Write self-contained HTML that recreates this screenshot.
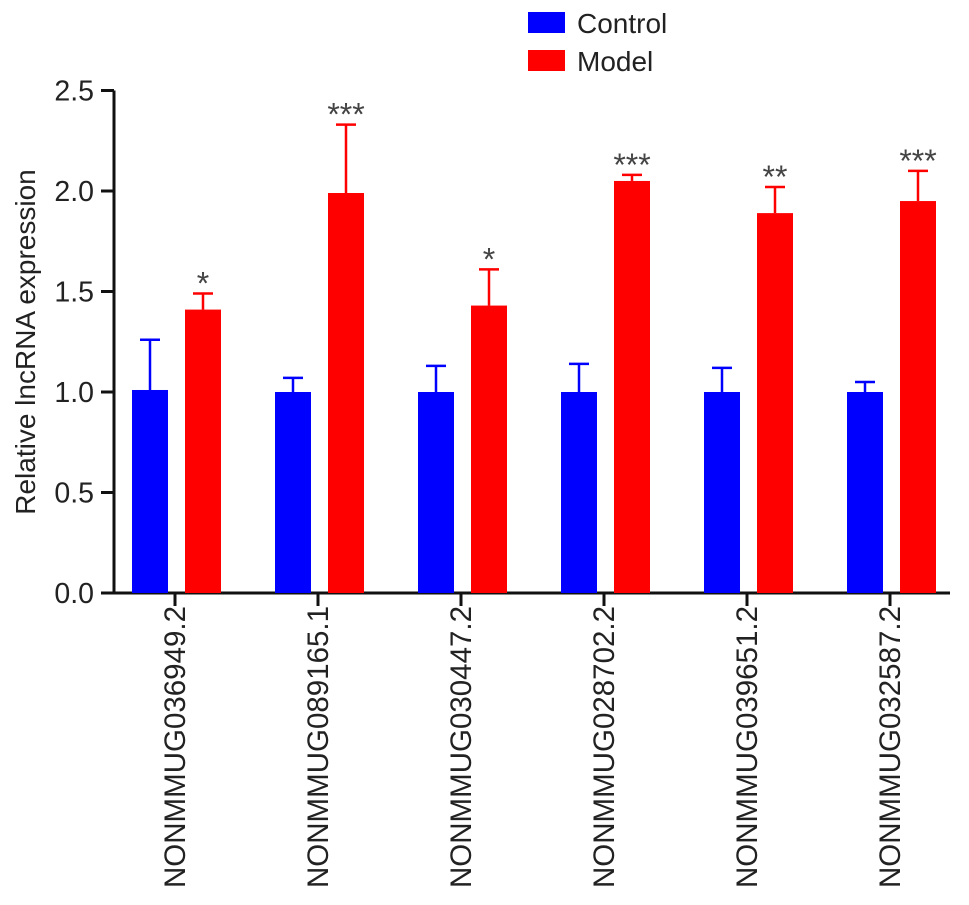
<!DOCTYPE html>
<html><head><meta charset="utf-8"><style>
body{margin:0;background:#fff}
svg{display:block;font-family:"Liberation Sans",Arial,sans-serif}
</style></head><body>
<svg id="chart" width="969" height="905">
<g id="legend">
<rect x="528" y="12" width="37" height="21" fill="#0000ff"/>
<text x="577" y="33" font-size="28" fill="#222">Control</text>
<rect x="528" y="50" width="37" height="21" fill="#ff0000"/>
<text x="577" y="71" font-size="28" fill="#222">Model</text>
</g>
<text transform="translate(35,342) rotate(-90)" text-anchor="middle" font-size="28" fill="#222">Relative lncRNA expression</text>
</svg>
<script>
const categories=["NONMMUG036949.2","NONMMUG089165.1","NONMMUG030447.2","NONMMUG028702.2","NONMMUG039651.2","NONMMUG032587.2"];
const controlValues=[1.01,1.0,1.0,1.0,1.0,1.0];
const controlErrors=[0.25,0.07,0.13,0.14,0.12,0.05];
const modelValues=[1.41,1.99,1.43,2.05,1.89,1.95];
const modelErrors=[0.08,0.34,0.18,0.03,0.13,0.15];
const significance=["*","***","*","***","**","***"];
const yTicks=[0,0.5,1.0,1.5,2.0,2.5];
const yTickLabels=["0.0","0.5","1.0","1.5","2.0","2.5"];

const svg=document.getElementById('chart');
const NS='http://www.w3.org/2000/svg';
const axisX=114,y0=593,pxPerUnit=201,groupStart=175,groupStep=143,barW=36;
function yScale(v){return y0-v*pxPerUnit;}
function xScale(i){return groupStart+i*groupStep;}
function mk(tag,attrs){const e=document.createElementNS(NS,tag);for(const k in attrs)e.setAttribute(k,attrs[k]);svg.appendChild(e);return e;}

let ax=mk('line',{x1:axisX,y1:y0+1,x2:axisX,y2:yScale(2.5),stroke:'#111','stroke-width':3});


let bx=mk('line',{x1:axisX-1,y1:y0,x2:950,y2:y0,stroke:'#111','stroke-width':3});



yTicks.forEach((t,i)=>{
  const y=yScale(t);
  const tk=mk('line',{x1:axisX-13,y1:y,x2:axisX,y2:y,stroke:'#111','stroke-width':3});
  
  
  const tl=mk('text',{x:axisX-20,y:y+10,'text-anchor':'end','font-size':28.5,fill:'#222'});
  tl.textContent=yTickLabels[i];
  
  
});

function bar(x,v,err,color,name){
  const top=yScale(v),et=yScale(v+err);
  const l=mk('line',{x1:x+barW/2,y1:top,x2:x+barW/2,y2:et,stroke:color,'stroke-width':2.5});
  
  
  const c=mk('line',{x1:x+barW/2-10,y1:et,x2:x+barW/2+10,y2:et,stroke:color,'stroke-width':2.5});
  
  
  const r=mk('rect',{x:x,y:top,width:barW,height:y0-top,fill:color});
  
  
  return et;
}

categories.forEach((c,i)=>{
  const cx=xScale(i);
  bar(cx-43,controlValues[i],controlErrors[i],'#0000ff','bar-control-'+(i+1));
  const et=bar(cx+10,modelValues[i],modelErrors[i],'#ff0000','bar-model-'+(i+1));
  const s=mk('text',{x:cx+28,y:et+1,'text-anchor':'middle','font-size':32,fill:'#444'});
  s.textContent=significance[i];
  
  
  const tk=mk('line',{x1:cx,y1:y0,x2:cx,y2:y0+13,stroke:'#111','stroke-width':3});
  
  
  const lb=mk('text',{transform:`translate(${cx+10},${y0+13}) rotate(-90)`,'text-anchor':'end','font-size':29.5,fill:'#222'});
  lb.textContent=c;
  
  
});
</script>
</body></html>
